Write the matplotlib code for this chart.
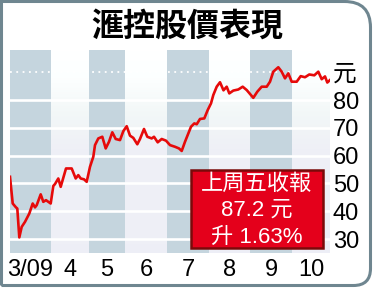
import numpy as np
import matplotlib
matplotlib.use("Agg")
import matplotlib.pyplot as plt
from matplotlib.path import Path
from matplotlib.patches import PathPatch, Rectangle

# time index runs over the plot width, month bands split it
t = [0, 2.7, 6, 7.3, 9.3, 11.7, 15, 19.3, 22.7, 25, 26.7, 30.7, 33.3, 36,
     40.7, 43.3, 45, 48.3, 50.7, 56, 61.7, 65.7, 68.3, 70.7, 74, 76.7, 80,
     83.3, 85, 88.3, 92.3, 95.7, 99, 102.3, 105.7, 110, 113.3, 116.7, 120,
     123.3, 127.3, 130, 134, 137.3, 141.7, 144, 147.7, 151.7, 156, 160,
     165, 169, 171.7, 175, 181, 184.3, 186.7, 190, 194.3, 197.7, 201,
     203.3, 206.7, 210,
     213.5, 216.7, 219.3, 223.3, 228.3, 232.7, 236.7, 243.3, 247.3, 251.7,
     256.7, 260, 263.3, 268.3, 271.7, 275, 278.3, 281.7, 286.7, 290.7,
     295, 299.3, 304.3, 308.3, 311.7, 315, 317.3, 320]
price = [52.4, 42.8, 41.4, 41, 30.6, 34.4, 36.2, 39.2, 42.8, 41.4, 42.2,
         46.1, 43.4, 44, 42.8, 49.1, 49.8, 51.8, 48.8, 55.4, 55.4, 51.8, 53,
         51.8, 51.5, 50.6, 56, 59.6, 63.8, 66.2, 66.8, 62.6, 65, 68.4, 66,
         65.6, 68.8, 70.6, 67.2, 66.4, 64.1, 66, 69.6, 66.8, 66.2, 66.8,
         64.8, 66, 65.4, 63.8, 63.2, 62.6, 61.7, 65, 70.4, 71.6, 71.3, 73.2,
         73.4, 76.4, 78.8, 81.8, 84.8, 86.4,
         83.5, 84.8, 82.4, 83.4, 83.8, 84.8, 83.6, 80.8, 83, 84.8, 84.8,
         86.6, 90.2, 91.8, 90.2, 87.8, 89.6, 86.6, 86.6, 88.6, 88.2, 89.2,
         88.9, 90.2, 87.5, 88.5, 86.3, 87.2]

month_edges = [0, 41, 79, 115, 157, 199, 240, 282, 320]
month_labels = ["3/09", "4", "5", "6", "7", "8", "9", "10"]
yticks = [30, 40, 50, 60, 70, 80, 90]
ylabels = ["30", "40", "50", "60", "70", "80", "元"]

title = "滙控股價表現"
box_lines = ["上周五收報", "87.2 元", "升 1.63%"]

W, H = 373, 288
fig = plt.figure(figsize=(W / 100, H / 100), dpi=100)
fig.patch.set_facecolor("white")
fonts = ["Liberation Sans", "Noto Sans CJK TC", "DejaVu Sans"]

ax = fig.add_axes([10 / W, 1 - 253 / H, 320 / W, 203 / H])
ax.set_xlim(0, 320)
ax.set_ylim(25, 98)

# light background gradient, white at the top
yy = np.linspace(25, 98, 200)
r = np.interp(yy, [25, 62, 75, 88, 98], [0.933, 0.937, 0.95, 0.99, 1.0])
g = np.interp(yy, [25, 62, 75, 88, 98], [0.937, 0.94, 0.97, 1.0, 1.0])
b = np.interp(yy, [25, 62, 75, 88, 98], [0.965, 0.965, 0.97, 1.0, 1.0])
grad = np.stack([r, g, b], axis=1)[:, None, :]
ax.imshow(grad, extent=[0, 320, 25, 98], origin="lower", aspect="auto", zorder=0)

for i in range(0, len(month_edges) - 1, 2):
    ax.axvspan(month_edges[i], month_edges[i + 1], color="#c5d5de", lw=0, zorder=1)

for v in yticks[:-1]:
    ax.axhline(v, color="white", lw=1.9, zorder=2)
ax.axhline(yticks[-1], color="white", lw=1.3, ls=(0, (1, 2.5)), zorder=2)

ax.plot(t, price, color="#e60a0a", lw=1.9, zorder=3, solid_joinstyle="round")

for s in ax.spines.values():
    s.set_visible(False)
ax.yaxis.tick_right()
ax.set_yticks(yticks)
ax.set_yticklabels(ylabels, family=fonts, fontsize=17)
centers = [(month_edges[i] + month_edges[i + 1]) / 2 for i in range(len(month_labels))]
ax.set_xticks(centers)
ax.set_xticklabels(month_labels, family=fonts, fontsize=17)
ax.tick_params(length=0, pad=2)
ax.tick_params(axis="x", pad=4)

# overlay in pixel coords for frame, title and the red box
ov = fig.add_axes([0, 0, 1, 1])
ov.set_xlim(0, W)
ov.set_ylim(H, 0)
ov.axis("off")
ov.patch.set_alpha(0)

r1, r2 = 26, 17
x0, y0, x1, y1 = 1.5, 1.5, 370.5, 285.5
verts = [(x0, y1), (x0, y0), (x1 - r1, y0), (x1, y0), (x1, y0 + r1),
         (x1, y1 - r2), (x1, y1), (x1 - r2, y1), (x0, y1)]
codes = [Path.MOVETO, Path.LINETO, Path.LINETO, Path.CURVE3, Path.CURVE3,
         Path.LINETO, Path.CURVE3, Path.CURVE3, Path.LINETO]
ov.add_patch(PathPatch(Path(verts, codes), fill=False, ec="#6f8690", lw=2.2))

ov.text(187, 27, title, ha="center", va="center", fontsize=23,
        family="Noto Sans CJK TC", weight="heavy", color="black")

ov.add_patch(Rectangle((191, 170), 132, 78, fc="#e4001b", ec="#7a0a0a", lw=1.8))
ov.text(256.5, 183, box_lines[0], ha="center", va="center", fontsize=16,
        family="Noto Sans CJK TC", weight="light", color="white")
for yl, txt in zip([210, 237], box_lines[1:]):
    ov.text(256.5, yl, txt, ha="center", va="center", fontsize=16,
            family=fonts, color="white")

fig.savefig("out.png", dpi=100)
